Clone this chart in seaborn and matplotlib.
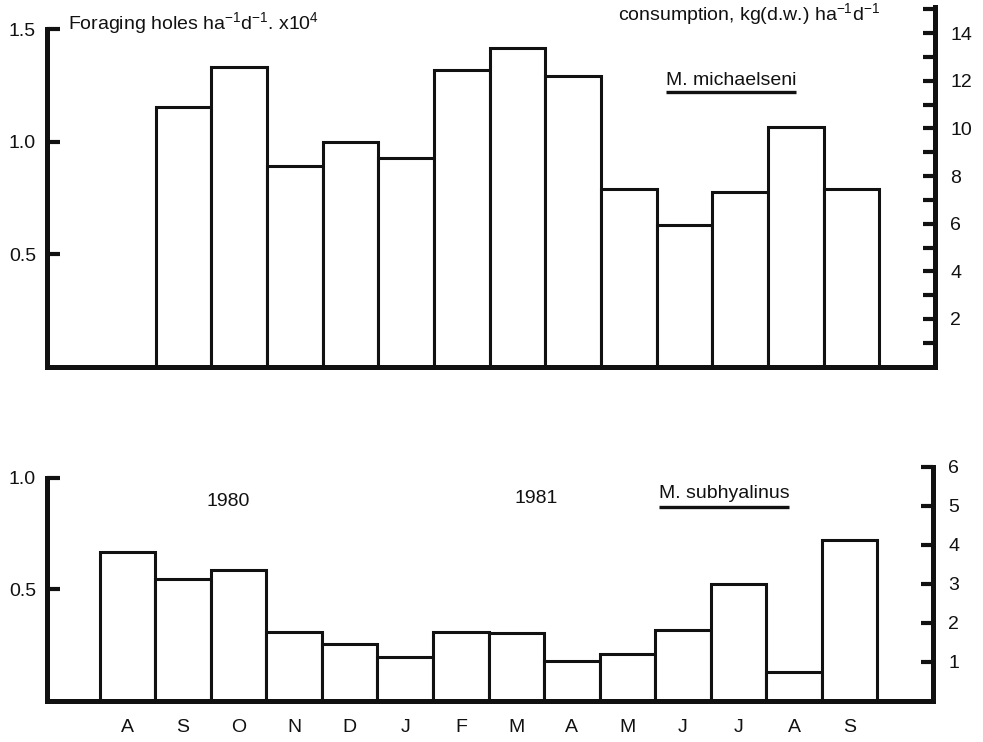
import matplotlib
matplotlib.use("Agg")
import matplotlib.pyplot as plt
import seaborn as sns
import pandas as pd

# Aug 1980 .. Sep 1981
periods = ["Aug80", "Sep80", "Oct80", "Nov80", "Dec80", "Jan81", "Feb81",
           "Mar81", "Apr81", "May81", "Jun81", "Jul81", "Aug81", "Sep81"]
months = ["A", "S", "O", "N", "D", "J", "F", "M", "A", "M", "J", "J", "A", "S"]

# M. michaelseni, foraging holes ha-1 d-1 (x10^4), Sep 1980 .. Sep 1981
mich_periods = periods[1:]
mich_holes = [1.155, 1.33, 0.89, 1.0, 0.925, 1.32, 1.415, 1.29, 0.79, 0.63,
              0.775, 1.065, 0.79]

# M. subhyalinus, Aug 1980 .. Sep 1981
subh_periods = periods
subh_holes = [0.667, 0.545, 0.586, 0.306, 0.252, 0.194, 0.306, 0.302, 0.176,
              0.207, 0.315, 0.523, 0.126, 0.72]

left_ticks_top = [0.5, 1.0, 1.5]
right_ticks_top = list(range(1, 16))
right_labels_top = [str(v) if v % 2 == 0 and v < 15 else "" for v in right_ticks_top]
left_ticks_bot = [0.5, 1.0]
right_ticks_bot = [1, 2, 3, 4, 5, 6]

sns.set_theme(style="white")
plt.rcParams["font.family"] = ["Liberation Sans", "DejaVu Sans"]
plt.rcParams["mathtext.default"] = "regular"
plt.rcParams["text.color"] = "#111111"

fig = plt.figure(figsize=(9.83, 7.42), dpi=100)
ax_top = fig.add_axes([0.0478, 0.506, 0.9034, 0.4845])
ax_bot = fig.add_axes([0.0478, 0.0559, 0.9013, 0.3174])

SPINE_LW = 3.6
BAR_LW = 2.2
FS = 14


def draw_panel(ax, per, vals, left_lim, left_ticks, left_top,
               right_lim, right_ticks, right_labels, right_top):
    df = pd.DataFrame({"period": per, "holes": vals})
    sns.barplot(data=df, x="period", y="holes", order=periods, color="white",
                saturation=1, edgecolor="#111111", linewidth=BAR_LW,
                width=1.0, errorbar=None, ax=ax)
    ax.set_xlim(-1.45, 14.5)
    ax.set_ylim(*left_lim)
    ax.set_xlabel("")
    ax.set_ylabel("")
    ax.set_yticks(left_ticks)
    ax.set_yticklabels([f"{t:.1f}" for t in left_ticks])
    ax.tick_params(axis="y", direction="in", length=9, width=3, labelsize=FS,
                   pad=8, color="#111111", labelcolor="#111111")
    ax.tick_params(axis="x", length=0, labelsize=FS, pad=13,
                   labelcolor="#111111")
    for s in ["top", "right"]:
        ax.spines[s].set_visible(False)
    for s in ["left", "bottom"]:
        ax.spines[s].set_linewidth(SPINE_LW)
        ax.spines[s].set_color("#111111")
        ax.spines[s].set_capstyle("projecting")
    ax.spines["left"].set_bounds(0, left_top)

    ax2 = ax.twinx()
    ax2.set_ylim(*right_lim)
    ax2.set_yticks(right_ticks)
    ax2.set_yticklabels(right_labels)
    ax2.tick_params(axis="y", direction="in", length=9, width=3, labelsize=FS,
                    pad=11, color="#111111", labelcolor="#111111")
    for s in ["top", "left", "bottom"]:
        ax2.spines[s].set_visible(False)
    ax2.spines["right"].set_linewidth(SPINE_LW)
    ax2.spines["right"].set_color("#111111")
    ax2.spines["right"].set_capstyle("projecting")
    ax2.spines["right"].set_bounds(0, right_top)
    return ax2


draw_panel(ax_top, mich_periods, mich_holes, (0, 1.598), left_ticks_top, 1.5,
           (0, 15.1), right_ticks_top, right_labels_top, 15.1)
ax_top.tick_params(axis="x", labelbottom=False)

draw_panel(ax_bot, subh_periods, subh_holes, (0, 1.058), left_ticks_bot, 1.0,
           (0, 6.05), right_ticks_bot, [str(t) for t in right_ticks_bot], 6.0)
ax_bot.set_xticks(range(len(months)))
ax_bot.set_xticklabels(months)

# axis titles
ax_top.text(0.0236, 0.939, "Foraging holes ha$^{-1}$d$^{-1}$. x10$^{4}$",
            transform=ax_top.transAxes, fontsize=FS, ha="left", va="baseline")
ax_top.text(0.938, 0.964, "consumption, kg(d.w.) ha$^{-1}$d$^{-1}$",
            transform=ax_top.transAxes, fontsize=FS, ha="right", va="baseline")

# species names, underlined
t_mich = ax_top.text(0.770, 0.783, "M. michaelseni", transform=ax_top.transAxes,
                     fontsize=FS, ha="center", va="baseline")
t_subh = ax_bot.text(0.764, 0.86, "M. subhyalinus", transform=ax_bot.transAxes,
                     fontsize=FS, ha="center", va="baseline")

# years
ax_bot.text(0.204, 0.826, "1980", transform=ax_bot.transAxes, fontsize=FS,
            ha="center", va="baseline")
ax_bot.text(0.552, 0.838, "1981", transform=ax_bot.transAxes, fontsize=FS,
            ha="center", va="baseline")

fig.canvas.draw()
renderer = fig.canvas.get_renderer()
for t, ax, y_line in [(t_mich, ax_top, 0.764), (t_subh, ax_bot, 0.822)]:
    bb = t.get_window_extent(renderer).transformed(ax.transAxes.inverted())
    ax.plot([bb.x0, bb.x1], [y_line, y_line], transform=ax.transAxes,
            color="#111111", lw=2.4, solid_capstyle="butt", clip_on=False)

fig.savefig("out.png", dpi=100)
